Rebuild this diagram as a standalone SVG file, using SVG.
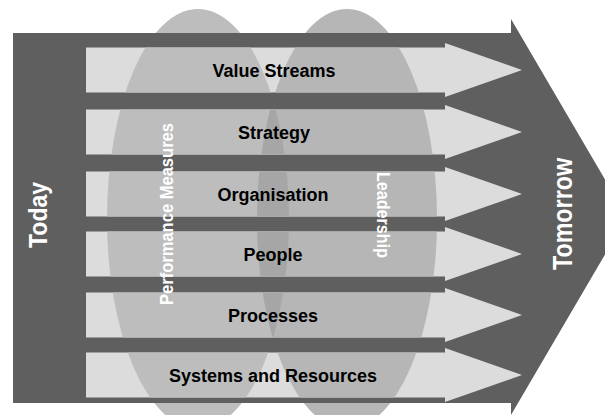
<svg xmlns="http://www.w3.org/2000/svg" xmlns:xlink="http://www.w3.org/1999/xlink" width="605" height="415" viewBox="0 0 605 415">
<style>
.body{fill:#5f5f5f}
.lane{fill:#dcdcdc}
.lbl{font-family:"Liberation Sans",Arial,sans-serif;font-weight:bold;font-size:18px;fill:#000;text-anchor:middle}
.wlbl{font-family:"Liberation Sans",Arial,sans-serif;font-weight:bold;fill:#fff;text-anchor:middle}
.ellL{fill:#bdbdbd}
.ellR{fill:#b6b6b6}
.ovl{fill:#a6a6a6}
</style>
<defs>
<polygon id="a1" points="86,47.5 445,47.5 445,43 522,70 445,97 445,92.5 86,92.5"/>
<polygon id="a2" points="86,109.5 445,109.5 445,105 522,132 445,159 445,154.5 86,154.5"/>
<polygon id="a3" points="86,171.5 445,171.5 445,167 522,194 445,221 445,216.5 86,216.5"/>
<polygon id="a4" points="86,231.5 445,231.5 445,227 522,254 445,281 445,276.5 86,276.5"/>
<polygon id="a5" points="86,292.5 445,292.5 445,288 522,315 445,342 445,337.5 86,337.5"/>
<polygon id="a6" points="86,352.5 445,352.5 445,348 522,375 445,402 445,397.5 86,397.5"/>
<ellipse id="eL" cx="198" cy="219" rx="91" ry="210"/>
<ellipse id="eR" cx="347" cy="219" rx="90" ry="210"/>
<clipPath id="clipLanes">
<use xlink:href="#a1"/><use xlink:href="#a2"/><use xlink:href="#a3"/>
<use xlink:href="#a4"/><use xlink:href="#a5"/><use xlink:href="#a6"/>
</clipPath>
<clipPath id="clipL"><use xlink:href="#eL"/></clipPath>
</defs>

<g id="ellipses-back">
<use xlink:href="#eL" class="ellL"/>
<use xlink:href="#eR" class="ellR"/>
</g>

<g id="big-arrow">
<polygon class="body" points="13,33 511,33 511,19 627,217 511,415 511,403 13,403"/>
</g>

<g id="lanes">
<use xlink:href="#a1" class="lane"/>
<use xlink:href="#a2" class="lane"/>
<use xlink:href="#a3" class="lane"/>
<use xlink:href="#a4" class="lane"/>
<use xlink:href="#a5" class="lane"/>
<use xlink:href="#a6" class="lane"/>
</g>

<g id="ellipses-front" clip-path="url(#clipLanes)">
<use xlink:href="#eL" class="ellL"/>
<use xlink:href="#eR" class="ellR"/>
<use xlink:href="#eR" class="ovl" clip-path="url(#clipL)"/>
</g>

<g id="performance-measures">
<text class="wlbl" font-size="18" textLength="182" lengthAdjust="spacingAndGlyphs" transform="translate(173,214) rotate(-90)">Performance Measures</text>
</g>
<g id="leadership">
<text class="wlbl" font-size="18" textLength="86" lengthAdjust="spacingAndGlyphs" transform="translate(377,215) rotate(90)">Leadership</text>
</g>

<g id="today">
<text class="wlbl" font-size="25" textLength="66" lengthAdjust="spacingAndGlyphs" transform="translate(47,215) rotate(-90)">Today</text>
</g>
<g id="tomorrow">
<text class="wlbl" font-size="27" textLength="112" lengthAdjust="spacingAndGlyphs" transform="translate(572,214) rotate(-90)">Tomorrow</text>
</g>

<g id="row-value-streams"><text class="lbl" x="274" y="76.5">Value Streams</text></g>
<g id="row-strategy"><text class="lbl" x="274" y="138.5">Strategy</text></g>
<g id="row-organisation"><text class="lbl" x="273" y="200.5">Organisation</text></g>
<g id="row-people"><text class="lbl" x="273" y="260.5">People</text></g>
<g id="row-processes"><text class="lbl" x="273" y="321.5">Processes</text></g>
<g id="row-systems"><text class="lbl" x="273" y="381.5">Systems and Resources</text></g>
</svg>
